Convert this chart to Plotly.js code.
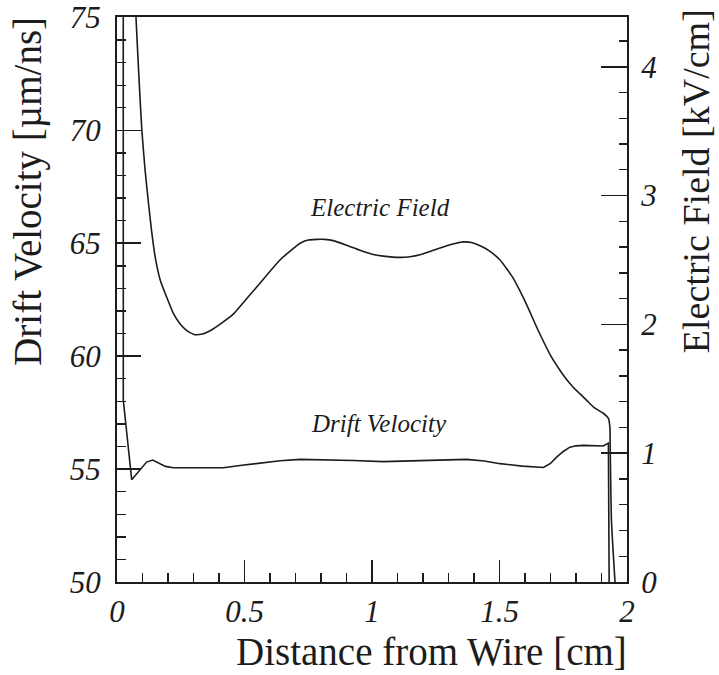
<!DOCTYPE html>
<html>
<head>
<meta charset="utf-8">
<script src="https://cdn.plot.ly/plotly-3.0.1.min.js"></script>
<style>html,body{margin:0;padding:0;background:#fff;}</style>
</head>
<body>
<div id="chart" style="width:719px;height:675px;"></div>
<script>
// Electric field (right axis, kV/cm) vs distance from wire (cm)
const fieldX = [0.060, 0.0745, 0.086, 0.097, 0.110, 0.123, 0.136, 0.150, 0.170, 0.195, 0.220, 0.247, 0.275, 0.306, 0.335, 0.365, 0.41, 0.456, 0.50, 0.548, 0.595, 0.639, 0.680, 0.718, 0.750, 0.783, 0.815, 0.848, 0.90, 0.953, 1.00, 1.044, 1.110, 1.150, 1.188, 1.240, 1.293, 1.330, 1.358, 1.39, 1.424, 1.46, 1.502, 1.55, 1.60, 1.65, 1.70, 1.735, 1.764, 1.79, 1.816, 1.842, 1.868, 1.89, 1.907, 1.927, 1.933, 1.934, 1.939, 1.953];
const fieldY = [5.00, 4.38, 3.92, 3.52, 3.20, 2.95, 2.72, 2.52, 2.34, 2.21, 2.09, 2.005, 1.95, 1.92, 1.925, 1.95, 2.01, 2.08, 2.18, 2.29, 2.40, 2.50, 2.57, 2.63, 2.655, 2.66, 2.66, 2.65, 2.615, 2.575, 2.545, 2.53, 2.52, 2.525, 2.54, 2.575, 2.61, 2.63, 2.64, 2.635, 2.61, 2.57, 2.50, 2.37, 2.18, 1.96, 1.76, 1.65, 1.57, 1.51, 1.46, 1.41, 1.36, 1.33, 1.31, 1.27, 1.20, 1.07, 0.48, 0.00];

// Drift velocity (left axis, um/ns) vs distance from wire (cm)
const velX = [0.0245, 0.0247, 0.0576, 0.075, 0.090, 0.116, 0.140, 0.162, 0.190, 0.221, 0.30, 0.417, 0.49, 0.561, 0.64, 0.718, 0.82, 0.927, 1.044, 1.14, 1.24, 1.371, 1.44, 1.502, 1.59, 1.672, 1.70, 1.724, 1.75, 1.776, 1.80, 1.829, 1.907, 1.927, 1.930, 1.932];
const velY = [80, 58.05, 54.53, 54.75, 54.94, 55.31, 55.40, 55.27, 55.12, 55.06, 55.05, 55.06, 55.17, 55.27, 55.37, 55.43, 55.42, 55.38, 55.33, 55.36, 55.40, 55.43, 55.36, 55.24, 55.13, 55.07, 55.25, 55.53, 55.78, 55.97, 56.03, 56.05, 56.02, 56.15, 50, 40];

const xRange = [0, 2];
const velRange = [50, 75.02];
const fieldRange = [0, 4.386];
const velTicks = [50, 55, 60, 65, 70, 75];

const titleX = 'Distance from Wire [cm]';
const titleVel = 'Drift Velocity [\u00B5m/ns]';
const titleField = 'Electric Field [kV/cm]';
const labelField = 'Electric Field';
const labelVel = 'Drift Velocity';
const labelFieldPos = [1.031, 66.6];
const labelVelPos = [1.027, 57.0];

const ink = '#1c1c1c';
const serif = '"Liberation Serif", "Times New Roman", serif';
const tickFont = {family: serif, size: 31, style: 'italic', color: ink};

const traces = [
  {x: fieldX, y: fieldY, yaxis: 'y2', type: 'scatter', mode: 'lines',
   line: {color: ink, width: 1.6, shape: 'spline', smoothing: 0.5}, hoverinfo: 'skip', name: 'Electric Field'},
  {x: velX, y: velY, yaxis: 'y', type: 'scatter', mode: 'lines',
   line: {color: ink, width: 1.6}, hoverinfo: 'skip', name: 'Drift Velocity'}
];

const layout = {
  width: 719, height: 675,
  margin: {l: 117, r: 92, t: 17, b: 93, pad: 0},
  paper_bgcolor: '#fff', plot_bgcolor: '#fff',
  showlegend: false,
  xaxis: {
    range: xRange, dtick: 0.5, tick0: 0,
    ticks: 'inside', ticklen: 22, tickwidth: 1.6, tickcolor: ink,
    minor: {dtick: 0.1, ticks: 'inside', ticklen: 9, tickwidth: 1.4, tickcolor: ink},
    showline: true, linewidth: 2, linecolor: ink, mirror: true,
    showgrid: false, zeroline: false,
    tickfont: tickFont, ticklabelstandoff: 1
  },
  yaxis: {
    range: velRange, tickmode: 'array', tickvals: velTicks,
    ticks: 'inside', ticklen: 24, tickwidth: 1.6, tickcolor: ink,
    minor: {dtick: 1, tick0: 50, ticks: 'inside', ticklen: 9, tickwidth: 1.4, tickcolor: ink},
    showline: true, linewidth: 2, linecolor: ink,
    showgrid: false, zeroline: false,
    tickfont: tickFont, ticklabelstandoff: 8
  },
  yaxis2: {
    range: fieldRange, dtick: 1, tick0: 0, overlaying: 'y', side: 'right',
    ticks: 'inside', ticklen: 26, tickwidth: 1.6, tickcolor: ink,
    minor: {dtick: 0.2, ticks: 'inside', ticklen: 8, tickwidth: 1.4, tickcolor: ink},
    showline: true, linewidth: 2, linecolor: ink,
    showgrid: false, zeroline: false,
    tickfont: tickFont, ticklabelstandoff: 6
  },
  annotations: [
    {text: titleX, xref: 'paper', yref: 'paper', x: 1.004, y: -0.123,
     xanchor: 'right', yanchor: 'middle', showarrow: false,
     font: {family: serif, size: 39, color: ink}},
    {text: titleVel, xref: 'paper', yref: 'paper', x: -0.1745, y: 1.003,
     xanchor: 'center', yanchor: 'top', textangle: -90, showarrow: false,
     font: {family: serif, size: 39, color: ink}},
    {text: titleField, xref: 'paper', yref: 'paper', x: 1.134, y: 1.018,
     xanchor: 'center', yanchor: 'top', textangle: -90, showarrow: false,
     font: {family: serif, size: 38, color: ink}},
    {text: labelField, xref: 'x', yref: 'y', x: labelFieldPos[0], y: labelFieldPos[1],
     xanchor: 'center', yanchor: 'middle', showarrow: false,
     font: {family: serif, size: 25, style: 'italic', color: ink}},
    {text: labelVel, xref: 'x', yref: 'y', x: labelVelPos[0], y: labelVelPos[1],
     xanchor: 'center', yanchor: 'middle', showarrow: false,
     font: {family: serif, size: 25, style: 'italic', color: ink}}
  ]
};

Plotly.newPlot('chart', traces, layout, {staticPlot: true, displayModeBar: false});
</script>
</body>
</html>
